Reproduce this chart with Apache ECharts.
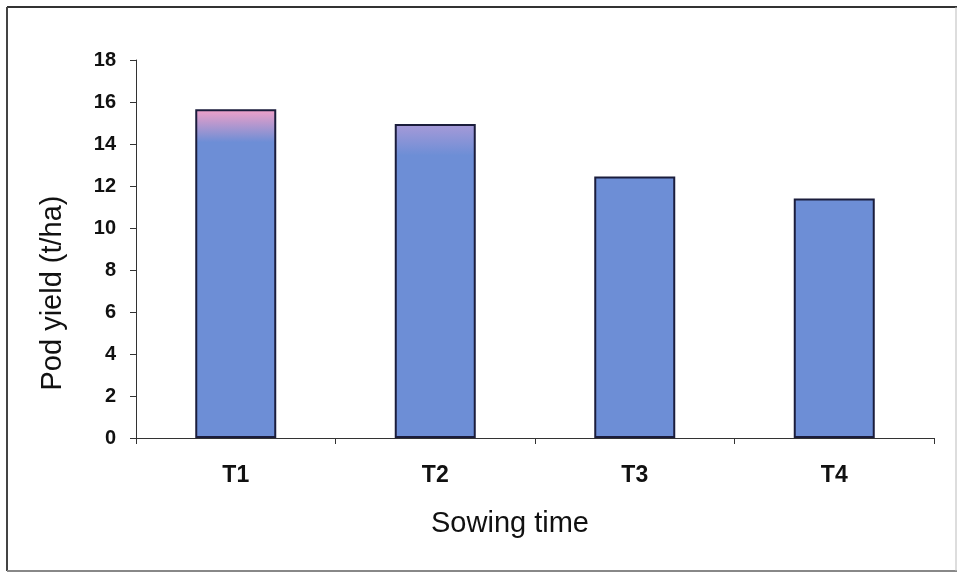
<!DOCTYPE html>
<html>
<head>
<meta charset="utf-8">
<script src="https://cdn.jsdelivr.net/npm/echarts@6/dist/echarts.min.js"></script>
<style>
  html, body { margin: 0; padding: 0; background: #fff; }
  #chart { width: 958px; height: 573px; }
</style>
</head>
<body>
<div id="chart"></div>
<script>
// data
var categories = ['T1', 'T2', 'T3', 'T4'];
var podYield = [15.65, 14.95, 12.45, 11.4];
var yTitle = 'Pod yield (t/ha)';
var xTitle = 'Sowing time';

var blue = '#6d8ed6';
// top tint of each bar (faded pink on the first two)
var topTint = ['#f2a0c8', '#a79ad8', blue, blue];

var chart = echarts.init(document.getElementById('chart'));

var font = 'Liberation Sans';

chart.setOption({
    backgroundColor: '#fff',
    animation: false,
    graphic: [
        // scanned frame round the chart
        { type: 'line', shape: { x1: 7, y1: 7, x2: 957, y2: 7 }, style: { stroke: '#333', lineWidth: 2 }, silent: true },
        { type: 'line', shape: { x1: 7, y1: 7, x2: 7, y2: 571 }, style: { stroke: '#444', lineWidth: 2 }, silent: true },
        { type: 'line', shape: { x1: 7, y1: 571, x2: 957, y2: 571 }, style: { stroke: '#888', lineWidth: 2 }, silent: true },
        { type: 'line', shape: { x1: 956, y1: 7, x2: 956, y2: 571 }, style: { stroke: '#bbb', lineWidth: 1 }, silent: true },
        // axis titles sit a bit off centre in the original
        {
            type: 'text', x: 53, y: 293, rotation: Math.PI / 2,
            style: { text: yTitle, font: '29px "' + font + '"', fill: '#111', align: 'center', verticalAlign: 'middle' },
            silent: true
        },
        {
            type: 'text', x: 510, y: 524,
            style: { text: xTitle, font: '29px "' + font + '"', fill: '#111', align: 'center', verticalAlign: 'middle' },
            silent: true
        }
    ],
    grid: { left: 136, right: 24, top: 60, bottom: 135 },
    xAxis: {
        type: 'category',
        data: categories,
        axisLine: { lineStyle: { color: '#333', width: 1 } },
        axisTick: { show: true, length: 6, lineStyle: { color: '#333' } },
        axisLabel: { fontFamily: font, fontWeight: 'bold', fontSize: 23, color: '#111', margin: 26 }
    },
    yAxis: {
        type: 'value',
        min: 0,
        max: 18,
        interval: 2,
        axisLine: { show: true, lineStyle: { color: '#333', width: 1 } },
        axisTick: { show: true, length: 6, lineStyle: { color: '#333' } },
        splitLine: { show: false },
        axisLabel: { fontFamily: font, fontWeight: 'bold', fontSize: 20, color: '#111', margin: 20 }
    },
    series: [{
        type: 'bar',
        barWidth: 81,
        data: podYield.map(function (v, i) {
            return {
                value: v,
                itemStyle: {
                    color: new echarts.graphic.LinearGradient(0, 0, 0, 1, [
                        { offset: 0, color: topTint[i] },
                        { offset: 0.1, color: blue },
                        { offset: 1, color: blue }
                    ])
                }
            };
        }),
        itemStyle: { borderColor: '#1b1d3c', borderWidth: 2 }
    }]
});
</script>
</body>
</html>
